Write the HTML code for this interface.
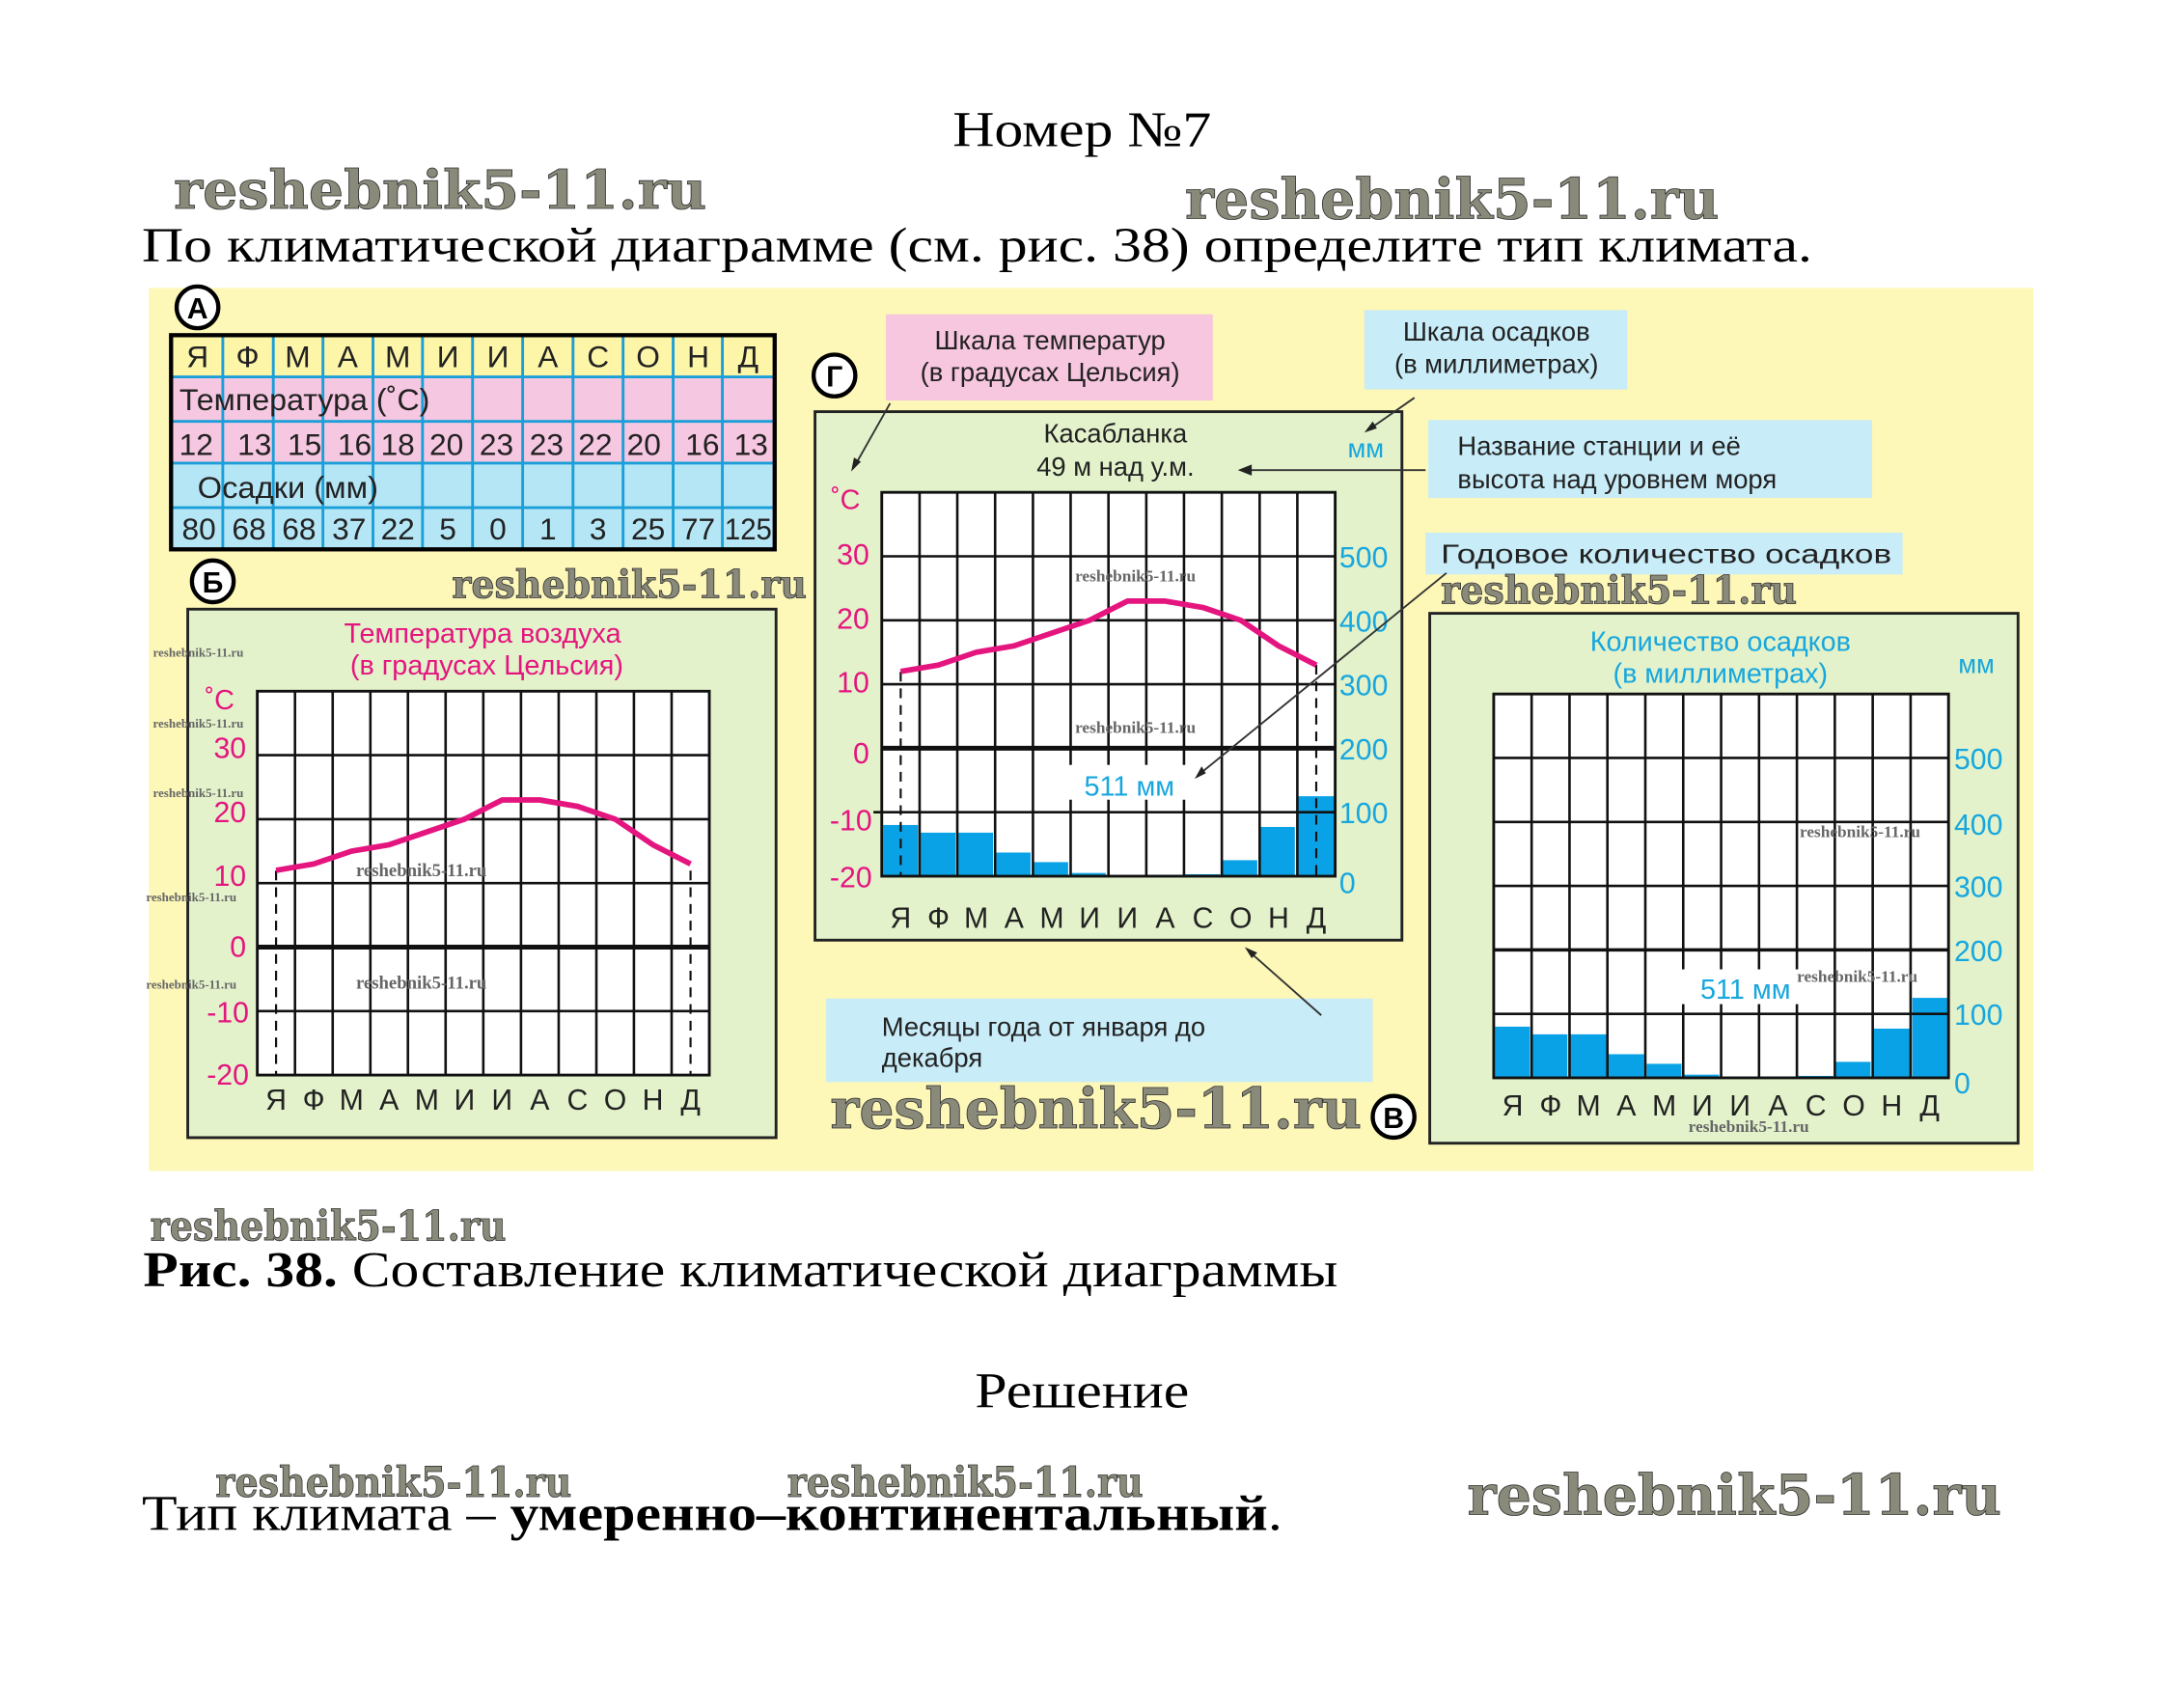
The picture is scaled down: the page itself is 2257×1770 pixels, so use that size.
<!DOCTYPE html>
<html><head><meta charset="utf-8"><style>
html,body{margin:0;padding:0;background:#fff;}
svg{display:block;}
.s{font-family:"Liberation Serif","DejaVu Serif",serif;fill:#000;}
.a{font-family:"Liberation Sans","DejaVu Sans",sans-serif;}
.wm{font-family:"DejaVu Serif","Liberation Serif",serif;font-weight:bold;fill:#8a8a7a;stroke:#333;stroke-width:0.6;}
.ws{font-family:"Liberation Serif",serif;font-weight:bold;fill:#666;}
.mg{fill:#e5157f;}
.bl{fill:#17a7de;}
</style></head><body>
<svg width="2257" height="1770" viewBox="0 0 1566 1228.1" xmlns="http://www.w3.org/2000/svg">
<rect width="1566" height="1228.1" fill="#fff"/>
<text class="s" x="685" y="105" font-size="36" textLength="186" lengthAdjust="spacingAndGlyphs">Номер №7</text>
<text class="wm" x="125" y="150" font-size="38" textLength="383" lengthAdjust="spacingAndGlyphs">reshebnik5-11.ru</text>
<text class="wm" x="852" y="157" font-size="40" textLength="384" lengthAdjust="spacingAndGlyphs">reshebnik5-11.ru</text>
<text class="s" x="102" y="188" font-size="35" textLength="1201" lengthAdjust="spacingAndGlyphs">По климатической диаграмме (см. рис. 38) определите тип климата.</text>

<rect x="107" y="207" width="1355" height="635" fill="#fdf7b8"/>

<g stroke="#000" stroke-width="3" fill="#fff"><circle cx="142" cy="221" r="15"/></g>
<text class="a" x="142" y="229" font-size="21" font-weight="bold" text-anchor="middle">А</text>
<rect x="123" y="241" width="434" height="30" fill="#fdf5a8"/>
<rect x="123" y="271" width="434" height="62" fill="#f6c7e1"/>
<rect x="123" y="333" width="434" height="62" fill="#b5e6f6"/>
<g stroke="#1a9fd8" stroke-width="2">
<path d="M123 271H557M123 303H557M123 333H557M123 365H557"/>
<path d="M160.2 241V395M196.5 241V395M232.2 241V395M268.2 241V395M303.8 241V395M339.8 241V395M375.8 241V395M412 241V395M448 241V395M484 241V395M519.4 241V395"/>
</g>
<rect x="123" y="241" width="434" height="154" fill="none" stroke="#000" stroke-width="3"/>
<g class="a" font-size="22" fill="#222" text-anchor="middle">
<text x="142" y="264">Я</text><text x="178" y="264">Ф</text><text x="214" y="264">М</text><text x="250" y="264">А</text><text x="286" y="264">М</text><text x="322" y="264">И</text><text x="358" y="264">И</text><text x="394" y="264">А</text><text x="430" y="264">С</text><text x="466" y="264">О</text><text x="502" y="264">Н</text><text x="538" y="264">Д</text>
</g>
<text class="a" x="129" y="295" font-size="22" fill="#222" textLength="180" lengthAdjust="spacingAndGlyphs">Температура (˚С)</text>
<g class="a" font-size="22" fill="#222" text-anchor="middle">
<text x="141" y="327">12</text><text x="183" y="327">13</text><text x="219" y="327">15</text><text x="255" y="327">16</text><text x="286" y="327">18</text><text x="321" y="327">20</text><text x="357" y="327">23</text><text x="393" y="327">23</text><text x="428" y="327">22</text><text x="463" y="327">20</text><text x="505" y="327">16</text><text x="540" y="327">13</text>
</g>
<text class="a" x="142" y="358" font-size="22" fill="#222" textLength="130" lengthAdjust="spacingAndGlyphs">Осадки (мм)</text>
<g class="a" font-size="22" fill="#222" text-anchor="middle">
<text x="143" y="388">80</text><text x="179" y="388">68</text><text x="215" y="388">68</text><text x="251" y="388">37</text><text x="286" y="388">22</text><text x="322" y="388">5</text><text x="358" y="388">0</text><text x="394" y="388">1</text><text x="430" y="388">3</text><text x="466" y="388">25</text><text x="502" y="388">77</text><text x="538" y="388" textLength="34" lengthAdjust="spacingAndGlyphs">125</text>
</g>

<circle cx="153" cy="418" r="15" fill="#fff" stroke="#000" stroke-width="3"/>
<text class="a" x="153" y="426" font-size="21" font-weight="bold" text-anchor="middle">Б</text>
<text class="wm" x="325" y="430" font-size="28" textLength="255" lengthAdjust="spacingAndGlyphs">reshebnik5-11.ru</text>
<rect x="135" y="438" width="423" height="380" fill="#e3f2cb" stroke="#222" stroke-width="2"/>
<text class="a mg" x="347" y="462" font-size="20" text-anchor="middle">Температура воздуха</text>
<text class="a mg" x="350" y="485" font-size="20" text-anchor="middle">(в градусах Цельсия)</text>
<text class="a mg" x="158" y="510" font-size="20" text-anchor="middle">˚С</text>
<rect x="185" y="497" width="325" height="276" fill="#fff"/>
<g stroke="#111" stroke-width="1.8" fill="none">
<path d="M212.1 497V773M239.2 497V773M266.3 497V773M293.3 497V773M320.4 497V773M347.5 497V773M374.6 497V773M401.7 497V773M428.8 497V773M455.8 497V773M482.9 497V773"/>
<path d="M185 543H510M185 589H510M185 635H510M185 727H510"/>
<rect x="185" y="497" width="325" height="276" stroke-width="2"/>
</g>
<path d="M185 681H510" stroke="#111" stroke-width="3.5"/>
<path d="M198.5 626V773M496.5 626V773" stroke="#111" stroke-width="1.5" stroke-dasharray="7 5"/>
<polyline points="198.5,625.8 225.6,621.2 252.7,612 279.8,607.4 306.9,598.2 334,589 361,575.2 388.1,575.2 415.2,579.8 442.3,589 469.4,607.4 496.5,621.2" fill="none" stroke="#e5157f" stroke-width="4" stroke-linejoin="round"/>
<g class="a mg" font-size="21" text-anchor="end">
<text x="177" y="545">30</text><text x="177" y="591">20</text><text x="177" y="637">10</text><text x="177" y="688">0</text><text x="179" y="735">-10</text><text x="179" y="780">-20</text>
</g>
<g class="a" font-size="21" fill="#222" text-anchor="middle">
<text x="198.5" y="798">Я</text><text x="225.6" y="798">Ф</text><text x="252.7" y="798">М</text><text x="279.8" y="798">А</text><text x="306.9" y="798">М</text><text x="334" y="798">И</text><text x="361" y="798">И</text><text x="388.1" y="798">А</text><text x="415.2" y="798">С</text><text x="442.3" y="798">О</text><text x="469.4" y="798">Н</text><text x="496.5" y="798">Д</text>
</g>
<g class="ws" font-size="9">
<text x="110" y="472">reshebnik5-11.ru</text><text x="110" y="523">reshebnik5-11.ru</text><text x="110" y="573">reshebnik5-11.ru</text><text x="105" y="648">reshebnik5-11.ru</text><text x="105" y="711">reshebnik5-11.ru</text>
</g>
<g class="ws" font-size="13"><text x="256" y="630">reshebnik5-11.ru</text><text x="256" y="711">reshebnik5-11.ru</text></g>

<circle cx="600" cy="270" r="15" fill="#fff" stroke="#000" stroke-width="3"/>
<text class="a" x="600" y="278" font-size="21" font-weight="bold" text-anchor="middle">Г</text>
<rect x="637" y="226" width="235" height="62" fill="#f7c6df"/>
<text class="a" x="755" y="251" font-size="19" fill="#222" text-anchor="middle">Шкала температур</text>
<text class="a" x="755" y="274" font-size="19" fill="#222" text-anchor="middle">(в градусах Цельсия)</text>
<rect x="981" y="223" width="189" height="57" fill="#c8ecf8"/>
<text class="a" x="1076" y="245" font-size="19" fill="#222" text-anchor="middle">Шкала осадков</text>
<text class="a" x="1076" y="268" font-size="19" fill="#222" text-anchor="middle">(в миллиметрах)</text>
<rect x="586" y="296" width="422" height="380" fill="#e3f2cb" stroke="#222" stroke-width="2"/>
<text class="a" x="802" y="318" font-size="19" fill="#222" text-anchor="middle">Касабланка</text>
<text class="a" x="802" y="342" font-size="19" fill="#222" text-anchor="middle">49  м над  у.м.</text>
<text class="a bl" x="982" y="329" font-size="19" text-anchor="middle">мм</text>
<text class="a mg" x="608" y="366" font-size="20" text-anchor="middle">˚С</text>
<rect x="634" y="354" width="326" height="276" fill="#fff"/>
<g fill="#0aa2e6">
<rect x="635" y="593.2" width="25" height="36.8"/><rect x="662" y="598.7" width="25" height="31.3"/><rect x="689" y="598.7" width="25" height="31.3"/><rect x="716" y="613" width="25" height="17"/><rect x="743" y="619.9" width="25" height="10.1"/><rect x="770" y="627.7" width="25" height="2.3"/><rect x="825" y="629" width="25" height="1"/><rect x="852" y="628.6" width="25" height="1.4"/><rect x="879" y="618.5" width="25" height="11.5"/><rect x="906" y="594.6" width="25" height="35.4"/><rect x="933" y="572.5" width="27" height="57.5"/>
</g>
<g stroke="#111" stroke-width="1.8" fill="none">
<path d="M661.2 354V630M688.3 354V630M715.5 354V630M742.7 354V630M769.8 354V630M797 354V630M824.2 354V630M851.3 354V630M878.5 354V630M905.7 354V630M932.8 354V630"/>
<path d="M634 400H960M634 446H960M634 492H960M628 584H960"/>
<rect x="634" y="354" width="326" height="276" stroke-width="2"/>
</g>
<path d="M634 538H960" stroke="#111" stroke-width="3.5"/>
<path d="M647.6 483V630M946.4 478V630" stroke="#111" stroke-width="1.5" stroke-dasharray="7 5"/>
<polyline points="647.6,482.8 674.8,478.2 701.9,469 729.1,464.4 756.3,455.2 783.4,446 810.6,432.2 837.8,432.2 864.9,436.8 892.1,446 919.3,464.4 946.4,478.2" fill="none" stroke="#e5157f" stroke-width="4" stroke-linejoin="round"/>
<rect x="768" y="550" width="90" height="25" fill="#fff"/>
<text class="a bl" x="812" y="572" font-size="20" text-anchor="middle">511 мм</text>
<g class="a mg" font-size="21" text-anchor="end">
<text x="625" y="406">30</text><text x="625" y="452">20</text><text x="625" y="498">10</text><text x="625" y="549">0</text><text x="627" y="597">-10</text><text x="627" y="638">-20</text>
</g>
<g class="a bl" font-size="21">
<text x="963" y="408">500</text><text x="963" y="454">400</text><text x="963" y="500">300</text><text x="963" y="546">200</text><text x="963" y="592">100</text><text x="963" y="642">0</text>
</g>
<g class="a" font-size="21" fill="#222" text-anchor="middle">
<text x="647.6" y="667">Я</text><text x="674.8" y="667">Ф</text><text x="701.9" y="667">М</text><text x="729.1" y="667">А</text><text x="756.3" y="667">М</text><text x="783.4" y="667">И</text><text x="810.6" y="667">И</text><text x="837.8" y="667">А</text><text x="864.9" y="667">С</text><text x="892.1" y="667">О</text><text x="919.3" y="667">Н</text><text x="946.4" y="667">Д</text>
</g>
<g class="ws" font-size="12"><text x="773" y="418">reshebnik5-11.ru</text><text x="773" y="527">reshebnik5-11.ru</text></g>

<rect x="1027" y="302" width="319" height="56" fill="#c8ecf8"/>
<text class="a" x="1048" y="327" font-size="19" fill="#222">Название станции и её</text>
<text class="a" x="1048" y="351" font-size="19" fill="#222">высота  над уровнем моря</text>
<rect x="1025" y="383" width="343" height="30" fill="#c8ecf8"/>
<text class="a" x="1036" y="405" font-size="19" fill="#222" textLength="324" lengthAdjust="spacingAndGlyphs">Годовое  количество  осадков</text>
<text class="wm" x="1036" y="434" font-size="28" textLength="256" lengthAdjust="spacingAndGlyphs">reshebnik5-11.ru</text>
<rect x="594" y="718" width="393" height="60" fill="#c8ecf8"/>
<text class="a" x="634" y="745" font-size="19" fill="#222">Месяцы  года  от  января  до</text>
<text class="a" x="634" y="767" font-size="19" fill="#222">декабря</text>
<text class="wm" x="597" y="811" font-size="40" textLength="382" lengthAdjust="spacingAndGlyphs">reshebnik5-11.ru</text>

<g stroke="#333" stroke-width="1.3" fill="none">
<path d="M640 290L614 336"/><path d="M1017 286L984 309"/><path d="M1025 338L893 338"/><path d="M1040 412L862 557"/><path d="M950 730L898 684"/>
</g>
<g fill="#222">
<path d="M612 339l2-10 5 3z"/><path d="M981 311l6-8 3 5z"/><path d="M890 338l10-4v8z"/><path d="M859 560l5-9 3 5z"/><path d="M895 681l9 4-4 4z"/>
</g>

<circle cx="1002" cy="803" r="15" fill="#fff" stroke="#000" stroke-width="3"/>
<text class="a" x="1002" y="811" font-size="21" font-weight="bold" text-anchor="middle">В</text>
<rect x="1028" y="441" width="423" height="381" fill="#e3f2cb" stroke="#222" stroke-width="2"/>
<text class="a bl" x="1237" y="468" font-size="20" text-anchor="middle">Количество  осадков</text>
<text class="a bl" x="1237" y="491" font-size="20" text-anchor="middle">(в  миллиметрах)</text>
<text class="a bl" x="1421" y="484" font-size="19" text-anchor="middle">мм</text>
<rect x="1074" y="499" width="327" height="276" fill="#fff"/>
<g fill="#0aa2e6">
<rect x="1075" y="738.2" width="25" height="36.8"/><rect x="1102" y="743.7" width="25" height="31.3"/><rect x="1129" y="743.7" width="26" height="31.3"/><rect x="1156" y="758" width="26" height="17"/><rect x="1184" y="764.9" width="25" height="10.1"/><rect x="1211" y="772.7" width="25" height="2.3"/><rect x="1266" y="774" width="25" height="1"/><rect x="1293" y="773.6" width="25" height="1.4"/><rect x="1320" y="763.5" width="25" height="11.5"/><rect x="1347" y="739.6" width="26" height="35.4"/><rect x="1375" y="717.5" width="26" height="57.5"/>
</g>
<g stroke="#111" stroke-width="1.8" fill="none">
<path d="M1101.25 499V775M1128.5 499V775M1155.75 499V775M1183 499V775M1210.25 499V775M1237.5 499V775M1264.75 499V775M1292 499V775M1319.25 499V775M1346.5 499V775M1373.75 499V775"/>
<path d="M1074 545H1401M1074 591H1401M1074 637H1401M1074 729H1401"/>
<rect x="1074" y="499" width="327" height="276" stroke-width="2"/>
</g>
<path d="M1074 683H1401" stroke="#111" stroke-width="2.5"/>
<rect x="1208" y="697" width="90" height="25" fill="#fff"/>
<text class="a bl" x="1255" y="718" font-size="20" text-anchor="middle">511 мм</text>
<g class="a bl" font-size="21">
<text x="1405" y="553">500</text><text x="1405" y="600">400</text><text x="1405" y="645">300</text><text x="1405" y="691">200</text><text x="1405" y="737">100</text><text x="1405" y="786">0</text>
</g>
<g class="a" font-size="21" fill="#222" text-anchor="middle">
<text x="1087.6" y="802">Я</text><text x="1114.9" y="802">Ф</text><text x="1142.1" y="802">М</text><text x="1169.4" y="802">А</text><text x="1196.6" y="802">М</text><text x="1223.9" y="802">И</text><text x="1251.1" y="802">И</text><text x="1278.4" y="802">А</text><text x="1305.6" y="802">С</text><text x="1332.9" y="802">О</text><text x="1360.1" y="802">Н</text><text x="1387.4" y="802">Д</text>
</g>
<g class="ws" font-size="12"><text x="1294" y="602">reshebnik5-11.ru</text><text x="1292" y="706">reshebnik5-11.ru</text><text x="1214" y="814">reshebnik5-11.ru</text></g>

<text class="wm" x="108" y="892" font-size="30" textLength="256" lengthAdjust="spacingAndGlyphs">reshebnik5-11.ru</text>
<text class="s" x="103" y="925" font-size="36" textLength="859" lengthAdjust="spacingAndGlyphs"><tspan font-weight="bold">Рис. 38.</tspan> Составление климатической диаграммы</text>
<text class="s" x="701" y="1012" font-size="36" textLength="154" lengthAdjust="spacingAndGlyphs">Решение</text>
<text class="wm" x="155" y="1076" font-size="30" textLength="256" lengthAdjust="spacingAndGlyphs">reshebnik5-11.ru</text>
<text class="wm" x="566" y="1076" font-size="30" textLength="256" lengthAdjust="spacingAndGlyphs">reshebnik5-11.ru</text>
<text class="wm" x="1055" y="1089" font-size="40" textLength="384" lengthAdjust="spacingAndGlyphs">reshebnik5-11.ru</text>
<text class="s" x="102" y="1100" font-size="36" textLength="820" lengthAdjust="spacingAndGlyphs">Тип климата – <tspan font-weight="bold">умеренно–континентальный</tspan>.</text>
</svg>
</body></html>
